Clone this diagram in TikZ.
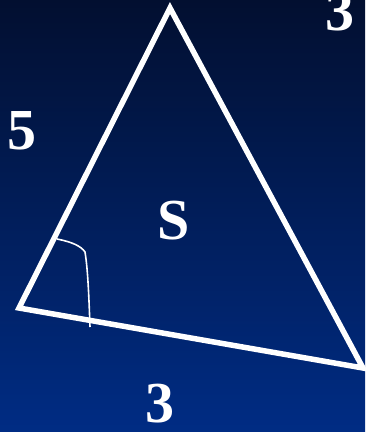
\documentclass[tikz,border=0pt]{standalone}
\usepackage{fontspec}
\setmainfont{Liberation Serif}
\usetikzlibrary{positioning}
\definecolor{bgtop}{HTML}{020F30}
\definecolor{bgbottom}{HTML}{002C84}

\begin{document}
\begin{tikzpicture}[
    x=1pt, y=-1pt,
    side/.style={draw=white, line width=5.5pt, line join=miter},
    anglearc/.style={draw=white, line width=1.6pt},
    lbl/.style={text=white, inner sep=0pt, font=\fontsize{58}{58}\selectfont\bfseries}
  ]
    % background
    \fill[top color=bgtop, bottom color=bgbottom] (0,0) rectangle (365,432);
    \useasboundingbox (0,0) rectangle (365,432);

    \coordinate (apex) at (170,8);
    \coordinate (left) at (19,308);
    \coordinate (right) at (363,368);
    \draw[side] (apex) -- (left) -- (right) -- cycle;

    % angle at the left corner
    \coordinate (arcA) at (57,239);
    \coordinate (arcB) at (90,327);
    \draw[anglearc] (arcA) .. controls (72,242) and (81,246) .. (85,252)
      .. controls (88,270) and (89,300) .. (arcB);

    \node[lbl] (five) at (22,131) {5};
    \node[lbl] (area) at (174,221) {S};
    \node[lbl] (base) at (160,404) {3};
    \node[lbl] (corner) at (340,12) {3};
\end{tikzpicture}
\end{document}
